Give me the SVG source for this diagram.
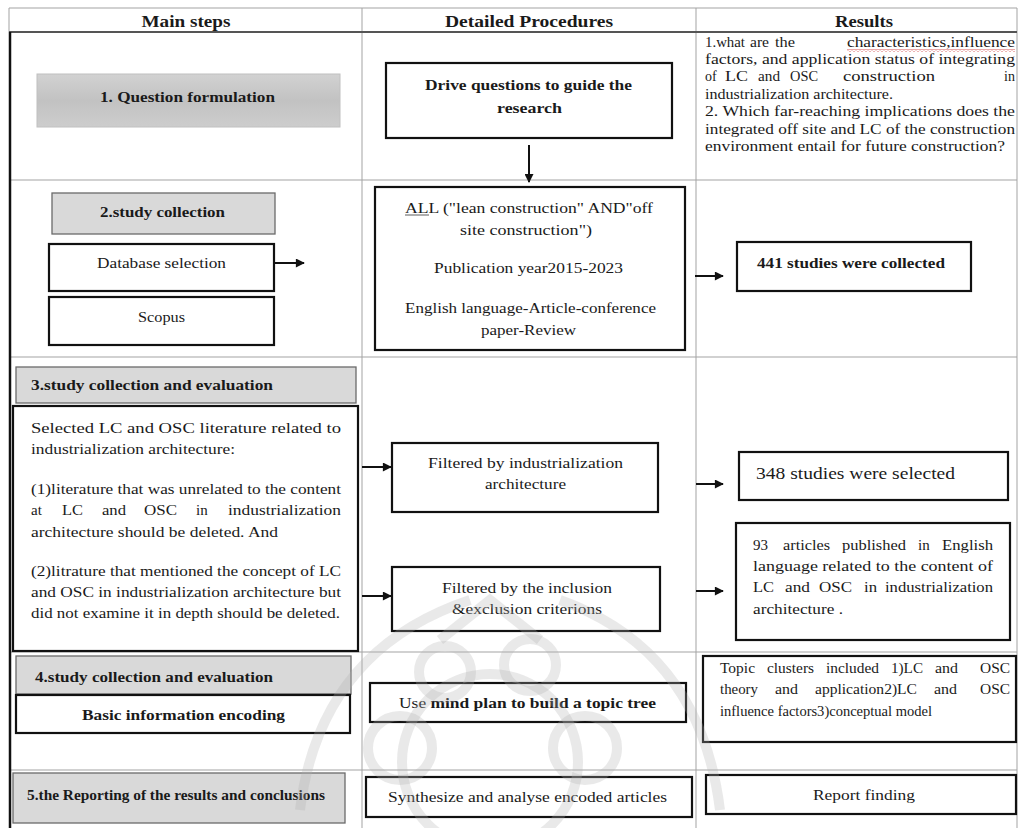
<svg xmlns="http://www.w3.org/2000/svg" width="1019" height="828" viewBox="0 0 1019 828">
<defs>
<style>
text{font-family:"Liberation Serif","Times New Roman",serif;fill:#1a1a1a;font-size:15px}
.h{font-size:16px;font-weight:bold}
.b{font-weight:bold}
.s14{font-size:14px}
.s17{font-size:17px}
.m{text-anchor:middle}
.box{fill:#fff;stroke:#111;stroke-width:2.2}
.gbox{fill:#d9d9d9;stroke:#6a6a6a;stroke-width:1.3}
.grid{stroke:#a3a3a3;stroke-width:1;fill:none}
.conn{stroke:#111;stroke-width:2;fill:none;marker-end:url(#ah)}
.wm{fill:none;stroke:#b0b0b0;stroke-width:10;opacity:0.28}
</style>
<marker id="ah" viewBox="0 0 10 10" refX="9" refY="5" markerWidth="10" markerHeight="9" markerUnits="userSpaceOnUse" orient="auto"><path d="M0,0 L10,5 L0,10 z" fill="#111"/></marker>
<linearGradient id="g1" x1="0" y1="0" x2="0" y2="1"><stop offset="0" stop-color="#d2d2d2"/><stop offset="0.5" stop-color="#c2c2c2"/><stop offset="1" stop-color="#cdcdcd"/></linearGradient>
<pattern id="wave" x="0" y="0" width="4" height="3" patternUnits="userSpaceOnUse"><path d="M0,2.5 L2,0.5 L4,2.5" fill="none" stroke="#d04040" stroke-width="0.9"/></pattern>
</defs>
<rect width="1019" height="828" fill="#fff"/>

<g id="table">
<path class="grid" d="M9,8 H1017 M9,8 V32 M362,8 V828 M696,8 V828 M1017,8 V828 M9,180 H1017 M9,357 H1017 M9,652 H1017 M9,770 H1017"/>
<path d="M9,32 H1017" stroke="#555" stroke-width="2"/>
<path d="M10,32 V828" stroke="#111" stroke-width="2.5"/>
<text class="h m" x="186" y="27" textLength="89" lengthAdjust="spacingAndGlyphs">Main steps</text>
<text class="h m" x="529" y="27" textLength="168" lengthAdjust="spacingAndGlyphs">Detailed Procedures</text>
<text class="h m" x="864" y="27" textLength="58" lengthAdjust="spacingAndGlyphs">Results</text>
</g>

<g id="connectors">
<line class="conn" x1="529" y1="145" x2="529" y2="182"/>
<line class="conn" x1="274" y1="263" x2="304" y2="263"/>
<line class="conn" x1="695" y1="276" x2="723" y2="276"/>
<line class="conn" x1="362" y1="467" x2="391" y2="467"/>
<line class="conn" x1="362" y1="596" x2="391" y2="596"/>
<line class="conn" x1="696" y1="484" x2="723" y2="484"/>
<line class="conn" x1="696" y1="591" x2="723" y2="591"/>
</g>

<g id="step1">
<rect x="37" y="74" width="303" height="53" fill="url(#g1)" stroke="#c0c0c0" stroke-width="1"/>
<text class="b m" x="187.5" y="102" textLength="175" lengthAdjust="spacingAndGlyphs">1. Question formulation</text>
</g>
<g id="drive">
<rect class="box" x="386" y="63" width="286" height="75"/>
<text class="b m" x="528.5" y="90" textLength="207" lengthAdjust="spacingAndGlyphs">Drive questions to guide the</text>
<text class="b m" x="529.5" y="113" textLength="65" lengthAdjust="spacingAndGlyphs">research</text>
</g>
<g id="questions">
<text class="s14" x="705" y="47" textLength="40" lengthAdjust="spacingAndGlyphs">1.what</text>
<text class="s14" x="750" y="47" textLength="19" lengthAdjust="spacingAndGlyphs">are</text>
<text class="s14" x="775" y="47" textLength="20" lengthAdjust="spacingAndGlyphs">the</text>
<text class="s14" x="847" y="47" textLength="168" lengthAdjust="spacingAndGlyphs">characteristics,influence</text>
<rect x="847" y="49" width="168" height="3" fill="url(#wave)"/>
<text class="s14" x="705" y="64" textLength="310" lengthAdjust="spacingAndGlyphs">factors, and application status of integrating</text>
<text class="s14" x="705" y="81">of</text>
<text class="s14" x="725" y="81" textLength="23" lengthAdjust="spacingAndGlyphs">LC</text>
<text class="s14" x="758" y="81" textLength="22" lengthAdjust="spacingAndGlyphs">and</text>
<text class="s14" x="790" y="81" textLength="28" lengthAdjust="spacingAndGlyphs">OSC</text>
<text class="s14" x="843" y="81" textLength="92" lengthAdjust="spacingAndGlyphs">construction</text>
<text class="s14" x="1004" y="81">in</text>
<text class="s14" x="705" y="99" textLength="188" lengthAdjust="spacingAndGlyphs">industrialization architecture.</text>
<text class="s14" x="705" y="116" textLength="310" lengthAdjust="spacingAndGlyphs">2. Which far-reaching implications does the</text>
<text class="s14" x="705" y="134" textLength="310" lengthAdjust="spacingAndGlyphs">integrated off site and LC of the construction</text>
<text class="s14" x="705" y="151" textLength="300" lengthAdjust="spacingAndGlyphs">environment entail for future construction?</text>
</g>

<g id="step2">
<rect class="gbox" x="52" y="193" width="223" height="41"/>
<text class="b m" x="162.5" y="217" textLength="125" lengthAdjust="spacingAndGlyphs">2.study collection</text>
</g>
<g id="database">
<rect class="box" x="49" y="244" width="225" height="47"/>
<text class="m" x="161.5" y="268" textLength="129" lengthAdjust="spacingAndGlyphs">Database selection</text>
</g>
<g id="scopus">
<rect class="box" x="49" y="297" width="225" height="48"/>
<text class="m" x="161.5" y="322" textLength="47" lengthAdjust="spacingAndGlyphs">Scopus</text>
</g>
<g id="search">
<rect class="box" x="375" y="187" width="310" height="163" stroke-width="2.5"/>
<text class="m" x="529" y="213" textLength="248" lengthAdjust="spacingAndGlyphs">ALL ("lean construction" AND"off</text>
<line x1="405" y1="215" x2="429" y2="215" stroke="#333" stroke-width="0.8"/>
<text class="m" x="526" y="235" textLength="132" lengthAdjust="spacingAndGlyphs">site construction")</text>
<text class="m" x="528.5" y="273" textLength="189" lengthAdjust="spacingAndGlyphs">Publication year2015-2023</text>
<text class="m" x="530.5" y="313" textLength="251" lengthAdjust="spacingAndGlyphs">English language-Article-conference</text>
<text class="m" x="528.5" y="335" textLength="95" lengthAdjust="spacingAndGlyphs">paper-Review</text>
</g>
<g id="collected">
<rect class="box" x="737" y="242" width="234" height="49"/>
<text class="b m" x="851" y="268" textLength="188" lengthAdjust="spacingAndGlyphs">441 studies were collected</text>
</g>

<g id="step3">
<rect class="gbox" x="16" y="367" width="340" height="36" stroke="#444"/>
<text class="b" x="31" y="390" textLength="242" lengthAdjust="spacingAndGlyphs">3.study collection and evaluation</text>
</g>
<g id="criteria">
<rect class="box" x="13" y="406" width="345" height="245" stroke-width="2.5"/>
<text x="31" y="433" textLength="310" lengthAdjust="spacingAndGlyphs">Selected LC and  OSC literature related to</text>
<text x="31" y="454" textLength="204" lengthAdjust="spacingAndGlyphs">industrialization architecture:</text>
<text x="31" y="494" textLength="310" lengthAdjust="spacingAndGlyphs">(1)literature that was unrelated to the content</text>
<text x="31" y="515">at</text>
<text x="62" y="515" textLength="21" lengthAdjust="spacingAndGlyphs">LC</text>
<text x="102" y="515" textLength="24" lengthAdjust="spacingAndGlyphs">and</text>
<text x="144" y="515" textLength="33" lengthAdjust="spacingAndGlyphs">OSC</text>
<text x="196" y="515">in</text>
<text x="228" y="515" textLength="113" lengthAdjust="spacingAndGlyphs">industrialization</text>
<text x="31" y="537" textLength="247" lengthAdjust="spacingAndGlyphs">architecture should be deleted. And</text>
<text x="31" y="576" textLength="310" lengthAdjust="spacingAndGlyphs">(2)litrature that mentioned the concept of LC</text>
<text x="31" y="597" textLength="310" lengthAdjust="spacingAndGlyphs">and OSC in industrialization architecture but</text>
<text x="31" y="618" textLength="309" lengthAdjust="spacingAndGlyphs">did not examine it in depth should be deleted.</text>
</g>
<g id="filter1">
<rect class="box" x="392" y="443" width="266" height="69"/>
<text class="m" x="525.5" y="468" textLength="195" lengthAdjust="spacingAndGlyphs">Filtered by industrialization</text>
<text class="m" x="525.5" y="489" textLength="81" lengthAdjust="spacingAndGlyphs">architecture</text>
</g>
<g id="filter2">
<rect class="box" x="392" y="567" width="268" height="64"/>
<text class="m" x="527" y="593" textLength="170" lengthAdjust="spacingAndGlyphs">Filtered by the inclusion</text>
<text class="m" x="527" y="614" textLength="150" lengthAdjust="spacingAndGlyphs">&amp;exclusion criterions</text>
</g>
<g id="selected">
<rect class="box" x="739" y="452" width="269" height="48"/>
<text class="s17" x="756" y="479" textLength="199" lengthAdjust="spacingAndGlyphs">348 studies were selected</text>
</g>
<g id="articles">
<rect class="box" x="736" y="523" width="274" height="117"/>
<text x="753" y="550">93</text>
<text x="783" y="550" textLength="47" lengthAdjust="spacingAndGlyphs">articles</text>
<text x="842" y="550" textLength="64" lengthAdjust="spacingAndGlyphs">published</text>
<text x="918" y="550">in</text>
<text x="942" y="550" textLength="51" lengthAdjust="spacingAndGlyphs">English</text>
<text x="753" y="571" textLength="240" lengthAdjust="spacingAndGlyphs">language related to the content of</text>
<text x="753" y="592" textLength="21" lengthAdjust="spacingAndGlyphs">LC</text>
<text x="785" y="592" textLength="25" lengthAdjust="spacingAndGlyphs">and</text>
<text x="819" y="592" textLength="33" lengthAdjust="spacingAndGlyphs">OSC</text>
<text x="864" y="592" textLength="13" lengthAdjust="spacingAndGlyphs">in</text>
<text x="885" y="592" textLength="108" lengthAdjust="spacingAndGlyphs">industrialization</text>
<text x="753" y="614" textLength="90" lengthAdjust="spacingAndGlyphs">architecture .</text>
</g>

<g id="step4">
<rect class="gbox" x="16" y="656" width="335" height="38"/>
<text class="b" x="35" y="682" textLength="238" lengthAdjust="spacingAndGlyphs">4.study collection and evaluation</text>
</g>
<g id="encoding">
<rect class="box" x="16" y="695" width="334" height="38"/>
<text class="b m" x="183.5" y="720" textLength="203" lengthAdjust="spacingAndGlyphs">Basic information encoding</text>
</g>
<g id="mindplan">
<rect class="box" x="370" y="683" width="316" height="39"/>
<text class="m" x="527.5" y="708" textLength="257" lengthAdjust="spacingAndGlyphs">Use <tspan class="b">mind plan to build a topic tree</tspan></text>
</g>
<g id="topics">
<rect class="box" x="703" y="656" width="313" height="86"/>
<text class="s14" x="720" y="673" textLength="35" lengthAdjust="spacingAndGlyphs">Topic</text>
<text class="s14" x="767" y="673" textLength="47" lengthAdjust="spacingAndGlyphs">clusters</text>
<text class="s14" x="826" y="673" textLength="53" lengthAdjust="spacingAndGlyphs">included</text>
<text class="s14" x="891" y="673" textLength="32" lengthAdjust="spacingAndGlyphs">1)LC</text>
<text class="s14" x="935" y="673" textLength="23" lengthAdjust="spacingAndGlyphs">and</text>
<text class="s14" x="980" y="673" textLength="30" lengthAdjust="spacingAndGlyphs">OSC</text>
<text class="s14" x="720" y="694" textLength="38" lengthAdjust="spacingAndGlyphs">theory</text>
<text class="s14" x="775" y="694" textLength="23" lengthAdjust="spacingAndGlyphs">and</text>
<text class="s14" x="815" y="694" textLength="102" lengthAdjust="spacingAndGlyphs">application2)LC</text>
<text class="s14" x="934" y="694" textLength="23" lengthAdjust="spacingAndGlyphs">and</text>
<text class="s14" x="980" y="694" textLength="30" lengthAdjust="spacingAndGlyphs">OSC</text>
<text class="s14" x="720" y="716" textLength="212" lengthAdjust="spacingAndGlyphs">influence factors3)conceptual model</text>
</g>

<g id="step5">
<rect class="gbox" x="13" y="773" width="332" height="50" fill="#e0e0e0" stroke="#7a7a7a"/>
<text class="b s14" x="27" y="800" textLength="298" lengthAdjust="spacingAndGlyphs">5.the Reporting of the results and conclusions</text>
</g>
<g id="synthesize">
<rect class="box" x="366" y="777" width="326" height="40"/>
<text class="m" x="527.5" y="802" textLength="279" lengthAdjust="spacingAndGlyphs">Synthesize and analyse encoded articles</text>
</g>
<g id="report">
<rect class="box" x="706" y="775" width="310" height="39"/>
<text class="m" x="864" y="800" textLength="102" lengthAdjust="spacingAndGlyphs">Report finding</text>
</g>

<g id="watermark">
<circle class="wm" cx="445" cy="672" r="26"/>
<circle class="wm" cx="530" cy="665" r="26"/>
<circle class="wm" cx="490" cy="762" r="88"/>
<circle class="wm" cx="400" cy="748" r="32"/>
<circle class="wm" cx="585" cy="748" r="32"/>
<path class="wm" d="M300,810 Q320,650 470,600"/>
<path class="wm" d="M720,810 Q700,650 560,600"/>
<path class="wm" d="M440,640 L490,600 L540,640"/>
</g>
</svg>
